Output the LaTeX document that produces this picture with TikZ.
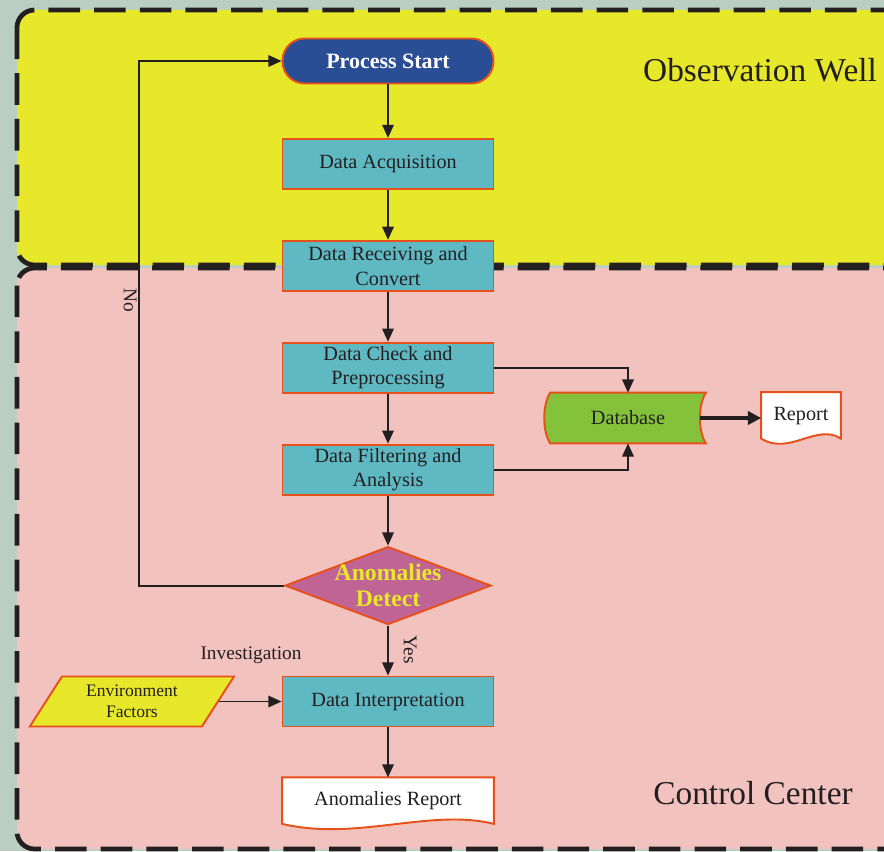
\documentclass[tikz,border=0pt]{standalone}
\usepackage{fontspec}
\setmainfont{Liberation Serif}
\usepackage{tikz}
\usetikzlibrary{shapes.geometric,shapes.misc,arrows.meta,positioning,calc,backgrounds}
\definecolor{cWell}{HTML}{E8E82A}
\definecolor{cCenter}{HTML}{F2C2BF}
\definecolor{cBack}{HTML}{BACFC2}
\definecolor{cStep}{HTML}{5FB9C2}
\definecolor{cEdge}{HTML}{E8501A}
\definecolor{cStart}{HTML}{2A4E96}
\definecolor{cDecide}{HTML}{C06496}
\definecolor{cStore}{HTML}{84C23C}
\definecolor{cInk}{HTML}{231F20}
\tikzset{
  zone/.style   = {draw=cInk, line width=2.7pt, dash pattern=on 18pt off 8pt, rounded corners=10pt},
  proc/.style   = {rectangle, draw=cEdge, fill=cStep, line width=1.1pt, text=cInk,
                   minimum width=4.22cm, minimum height=1.0cm, inner sep=2pt, align=center,
                   font=\fontsize{11.5}{14}\selectfont},
  term/.style   = {rectangle, rounded corners=0.44cm, draw=cEdge, fill=cStart, line width=1.1pt,
                   text=white, minimum width=4.22cm, minimum height=0.9cm,
                   font=\fontsize{12.5}{14}\selectfont\bfseries},
  dec/.style    = {diamond, draw=cEdge, fill=cDecide, line width=1.1pt,
                   minimum width=4.12cm, minimum height=1.56cm, inner sep=0pt},
  declab/.style = {text=cWell, align=center, font=\fontsize{13.5}{15}\selectfont\bfseries},
  io/.style     = {trapezium, trapezium left angle=62, trapezium right angle=118,
                   trapezium stretches=true, draw=cEdge, fill=cWell, line width=1.1pt,
                   text=cInk, minimum width=4.1cm, minimum height=1.0cm, align=center,
                   font=\fontsize{10}{12}\selectfont},
  doc/.style    = {rectangle, text=cInk, align=center, text depth=5pt,
                   font=\fontsize{11.5}{14}\selectfont},
  store/.style  = {rectangle, text=cInk, minimum width=3.1cm, minimum height=1.0cm,
                   font=\fontsize{11.5}{14}\selectfont},
  fl/.style     = {-{Triangle[length=7.5pt,width=6.5pt]}, draw=cInk, line width=1.1pt},
  flt/.style    = {-{Triangle[length=7.5pt,width=7.5pt]}, draw=cInk, line width=2.3pt},
  lab/.style    = {text=cInk, font=\fontsize{11}{13}\selectfont},
  title/.style  = {text=cInk, font=\fontsize{19}{22}\selectfont},
}
% outline of a document symbol round a node
\newcommand{\docframe}[1]{%
  \filldraw[fill=white, draw=cEdge, line width=1.1pt]
    (#1.north west) -- (#1.north east) -- ([yshift=3pt]#1.south east)
    .. controls ($(#1.south east)!0.3!(#1.south west)+(0,12pt)$)
       and ($(#1.south east)!0.65!(#1.south west)+(0,-7pt)$) .. ([yshift=3pt]#1.south west)
    -- cycle;}
% outline of a stored data symbol round a node
\newcommand{\storeframe}[1]{%
  \filldraw[fill=cStore, draw=cEdge, line width=1.1pt]
    (#1.north west) -- (#1.north east)
    .. controls +(-4.5pt,-7pt) and +(-4.5pt,7pt) .. (#1.south east) -- (#1.south west)
    .. controls +(-4.5pt,7pt) and +(-4.5pt,-7pt) .. (#1.north west) -- cycle;}

\begin{document}
\begin{tikzpicture}[x=0.02cm, y=-0.02cm, node distance=1.0cm]
  \useasboundingbox (0,0) rectangle (884,851);
  \begin{scope}[on background layer]
    \fill[cBack] (0,0) rectangle (884,851);
    \path[zone, fill=cCenter] (17,268) rectangle (910,849);
    \path[zone, fill=cWell] (17,10) rectangle (910,265);
  \end{scope}

  \node[term] (pstart) at (388,61) {Process Start};
  \node[proc, below=1.07cm of pstart] (acq) {Data Acquisition};
  \node[proc, below=of acq] (recv) {Data Receiving and\\Convert};
  \node[proc, below=of recv] (check) {Data Check and\\Preprocessing};
  \node[proc, below=of check] (filt) {Data Filtering and\\Analysis};
  \node[dec, below=of filt, label={[declab]center:Anomalies\\Detect}] (det) {};
  \node[proc, below=of det] (interp) {Data Interpretation};
  \node[doc, minimum width=4.22cm, minimum height=1.02cm, below=of interp] (arep) {Anomalies Report};
  \node[store] (db) at (628,418) {Database};
  \node[doc, minimum width=1.58cm, minimum height=1.02cm] (rep) at (801,418) {Report};
  \node[io, left=1.25cm of interp] (env) {Environment\\Factors};
  \coordinate (loopx) at (139,300);

  \node[lab, rotate=-90] (nolab) at (130,300) {No};
  \node[lab, rotate=-90] (yeslab) at (410,650) {Yes};
  \node[lab] (invlab) at (251,655) {Investigation};
  \node[title] (well) at (760,70) {Observation Well};
  \node[title] (center) at (753,793) {Control Center};

  \begin{scope}[on background layer]
    \docframe{arep}
    \docframe{rep}
    \storeframe{db}
  \end{scope}

  \draw[fl] (pstart) -- (acq);
  \draw[fl] (acq) -- (recv);
  \draw[fl] (recv) -- (check);
  \draw[fl] (check) -- (filt);
  \draw[fl] (filt) -- (det);
  \draw[fl] (det) -- (interp);
  \draw[fl] (interp) -- (arep);
  \draw[fl] (det.west) -| (loopx) |- (pstart.west);
  \draw[fl] (check.east) -| (db.north);
  \draw[fl] (filt.east) -| (db.south);
  \draw[flt] ([xshift=-3.4pt]db.east) -- (rep.west);
  \draw[fl] (env.east) -- (interp.west);
\end{tikzpicture}
\end{document}
